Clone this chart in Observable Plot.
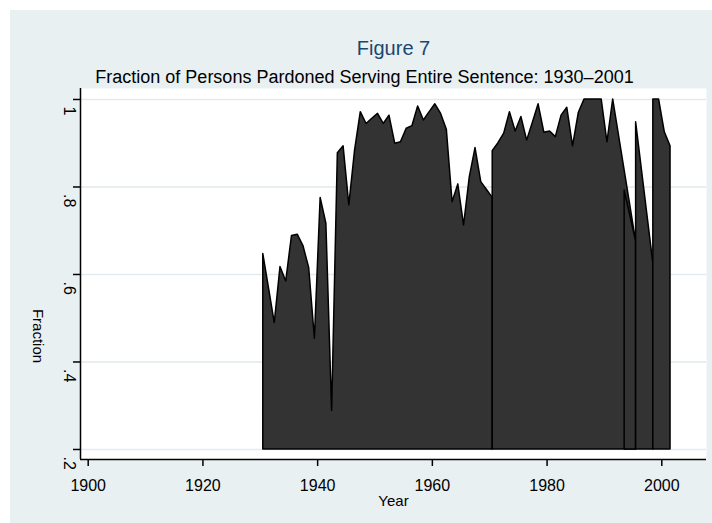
<!DOCTYPE html>
<html>
<head>
<meta charset="utf-8">
<script src="https://cdn.jsdelivr.net/npm/d3@7"></script>
<script src="https://cdn.jsdelivr.net/npm/@observablehq/plot@0.6"></script>
<style>
  html, body { margin: 0; padding: 0; background: #ffffff; }
  #wrap { position: relative; width: 712px; height: 523px; overflow: hidden; background: #ffffff; }
  #panel { position: absolute; left: 10px; top: 10px; width: 702px; height: 513px; background: #e9f0f2; }
  #chart { position: absolute; left: 0; top: 0; }
</style>
</head>
<body>
<div id="wrap"><div id="panel"></div><div id="chart"></div></div>
<script>
// ---- data ----
const years1 = [1930,1931,1932,1933,1934,1935,1936,1937,1938,1939,1940,1941,1942,1943,1944,1945,1946,1947,1948,1949,1950,1951,1952,1953,1954,1955,1956,1957,1958,1959,1960,1961,1962,1963,1964,1965,1966,1967,1968,1969,1970];
const frac1  = [0.647,0.568,0.489,0.617,0.584,0.688,0.691,0.665,0.615,0.453,0.775,0.716,0.288,0.877,0.893,0.758,0.883,0.971,0.944,0.956,0.967,0.944,0.963,0.899,0.902,0.933,0.939,0.984,0.952,0.971,0.989,0.967,0.931,0.765,0.806,0.712,0.822,0.889,0.811,0.793,0.775];
const years2 = [1970,1971,1972,1973,1974,1975,1976,1977,1978,1979,1980,1981,1982,1983,1984,1985,1986,1987,1988,1989,1990,1991,1995];
const frac2  = [0.882,0.900,0.922,0.971,0.927,0.960,0.906,0.947,0.989,0.924,0.927,0.914,0.963,0.981,0.893,0.969,1.000,1.000,1.000,1.000,0.902,1.000,0.675];
const years3 = [1993,1995];
const frac3  = [0.792,0.675];
const years4 = [1995,1998];
const frac4  = [0.948,0.625];
const years5 = [1998,1999,2000,2001];
const frac5  = [1.000,1.000,0.925,0.893];

const baseline = 0.2;
const xTicks = [1900,1920,1940,1960,1980,2000];
const yTicks = [1, 0.8, 0.6, 0.4, 0.2];
const yTickLabels = ["1", ".8", ".6", ".4", ".2"];

const titleText = "Figure 7";
const subtitleText = "Fraction of Persons Pardoned Serving Entire Sentence: 1930\u20132001";
const xLabel = "Year";
const yLabel = "Fraction";

// ---- build table ----
const segments = [[years1, frac1], [years2, frac2], [years3, frac3], [years4, frac4], [years5, frac5]];
const data = segments.flatMap(([ys, fs], s) => ys.map((yr, i) => ({year: yr, frac: fs[i], seg: s})));

const font = "'Liberation Sans', Arial, Helvetica, sans-serif";

const chart = Plot.plot({
  width: 712,
  height: 523,
  marginLeft: 80,
  marginRight: 6,
  marginTop: 88,
  marginBottom: 64,
  style: {fontFamily: font, background: "transparent", color: "#000"},
  x: {domain: [1898.135, 2007.27]},
  y: {domain: [0.1771, 1.0251]},
  marks: [
    Plot.frame({fill: "white", stroke: null}),
    Plot.gridY(yTicks, {stroke: "#e2eaed", strokeOpacity: 1, strokeWidth: 1.5}),
    Plot.areaY(data, {x: "year", y1: baseline, y2: "frac", z: "seg", fill: "#333333", stroke: "#000", strokeWidth: 1.5}),
    Plot.axisX({ticks: xTicks, tickSize: 7, tickPadding: 13, tickFormat: d => String(d), fontSize: 16, strokeWidth: 1.5, label: null, dx: -3}),
    Plot.axisY({ticks: yTicks, tickSize: 7, tickFormat: () => "", strokeWidth: 1.5, label: null}),
    Plot.ruleY([0.1771], {stroke: "#000", strokeWidth: 1.5}),
    Plot.ruleX([1898.135], {stroke: "#000", strokeWidth: 1.5}),
    Plot.text(yTicks, {y: d => d, text: (d, i) => yTickLabels[i], frameAnchor: "left", rotate: 90, textAnchor: "start", lineAnchor: "middle", dx: -11, dy: 7, fontSize: 16, fill: "#000"}),
    Plot.text([yLabel], {text: d => d, frameAnchor: "left", rotate: 90, textAnchor: "middle", dx: -43, dy: 62, fontSize: 15, fill: "#000"}),
    Plot.text([xLabel], {text: d => d, frameAnchor: "bottom", dy: 46, fontSize: 15, fill: "#000"}),
    Plot.text([titleText], {text: d => d, frameAnchor: "top", dy: -48, fontSize: 20, fill: "#1a476f"}),
    Plot.text([subtitleText], {text: d => d, frameAnchor: "top", dx: -29, dy: -18, fontSize: 18, fill: "#000"})
  ]
});
document.getElementById("chart").appendChild(chart);
</script>
</body>
</html>
